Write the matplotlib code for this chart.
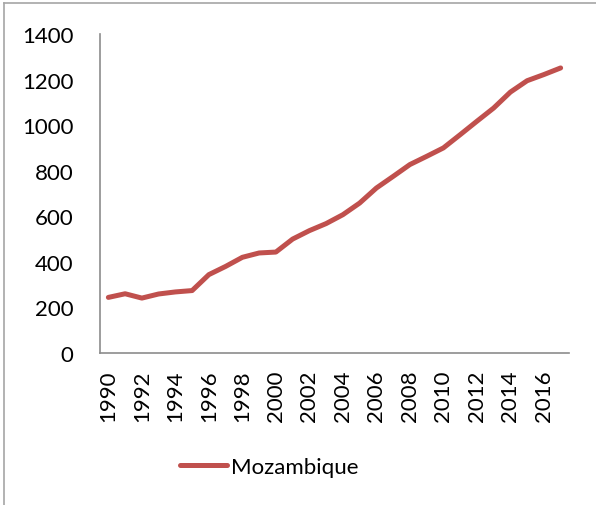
import matplotlib.pyplot as plt
from matplotlib.lines import Line2D

years = list(range(1990, 2018))
values = [244, 260, 241, 259, 268, 274, 344, 380, 420, 439, 443, 500, 537, 568,
          607, 658, 724, 775, 827, 863, 900, 958, 1017, 1075, 1145, 1195, 1222, 1251]
tick_years = list(range(1990, 2017, 2))
y_ticks = [0, 200, 400, 600, 800, 1000, 1200, 1400]

plt.rcParams['font.family'] = ['Lato', 'DejaVu Sans']

fig = plt.figure(figsize=(5.96, 5.06), dpi=100)
ax = fig.add_axes([100 / 596, 1 - 354 / 506, 469 / 596, 319 / 506])

pos = list(range(len(years)))
ax.plot(pos, values, color='#c0504d', linewidth=3.6, solid_capstyle='round',
        solid_joinstyle='round', label='Mozambique')

ax.set_xlim(-0.5, len(years) - 0.5)
ax.set_ylim(0, 1400)
ax.set_yticks(y_ticks)
ax.set_xticks([years.index(y) for y in tick_years])
ax.set_xticklabels([str(y) for y in tick_years], rotation=90)
ax.tick_params(length=0, labelsize=16, colors='#000000')
ax.tick_params(axis='x', pad=12)
ax.tick_params(axis='y', pad=19)

for s in ['top', 'right']:
    ax.spines[s].set_visible(False)
for s in ['left', 'bottom']:
    ax.spines[s].set_color('#8c8c8c')
    ax.spines[s].set_linewidth(1.2)

fig.legend(loc='center left', bbox_to_anchor=(180 / 596, 1 - 468 / 506), frameon=False,
           fontsize=16, handlelength=2.1, handletextpad=0.2, borderpad=0, borderaxespad=0)

# chart area border (left and top edges visible)
fig.add_artist(Line2D([3.5 / 596, 3.5 / 596], [0, 1 - 3.5 / 506], color='#a6a6a6', lw=1.2))
fig.add_artist(Line2D([3.5 / 596, 1], [1 - 3.5 / 506, 1 - 3.5 / 506], color='#a6a6a6', lw=1.2))

fig.savefig('out.png', dpi=100)
